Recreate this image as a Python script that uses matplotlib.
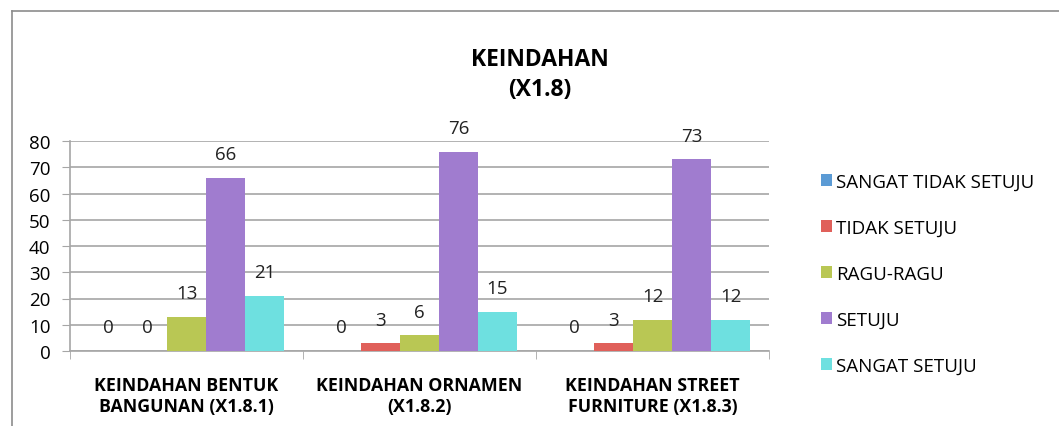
import matplotlib
matplotlib.use("Agg")
import matplotlib.pyplot as plt
import numpy as np
from matplotlib.lines import Line2D

categories = ["KEINDAHAN BENTUK\nBANGUNAN (X1.8.1)",
              "KEINDAHAN ORNAMEN\n(X1.8.2)",
              "KEINDAHAN STREET\nFURNITURE (X1.8.3)"]
series_names = ["SANGAT TIDAK SETUJU", "TIDAK SETUJU", "RAGU-RAGU", "SETUJU", "SANGAT SETUJU"]
sangat_tidak_setuju = [0, 0, 0]
tidak_setuju = [0, 3, 3]
ragu_ragu = [13, 6, 12]
setuju = [66, 76, 73]
sangat_setuju = [21, 15, 12]
colors = ["#5B9BD5", "#E0605A", "#B9C754", "#A07CCF", "#6EE0E0"]
yticks = [0, 10, 20, 30, 40, 50, 60, 70, 80]

plt.rcParams['font.family'] = ['Open Sans', 'DejaVu Sans']

W, H = 1059, 427
fig = plt.figure(figsize=(W / 100, H / 100), dpi=100)
ax = fig.add_axes([70 / W, 75 / H, 699 / W, 210 / H])

data = [sangat_tidak_setuju, tidak_setuju, ragu_ragu, setuju, sangat_setuju]
n = len(data)
bw = 0.1674
x = np.arange(len(categories))
offsets = (np.arange(n) - (n - 1) / 2) * bw
for i, (vals, name) in enumerate(zip(data, series_names)):
    bars = ax.bar(x + offsets[i], vals, bw, color=colors[i], label=name, zorder=3)
    for j, b in enumerate(bars):
        v = vals[j]
        ax.annotate(f"{v}", (b.get_x() + b.get_width() / 2, v),
                    xytext=(0, 17), textcoords="offset points",
                    ha="center", va="center", fontsize=13.5, color="#222222", zorder=4)

ax.set_xlim(-0.5, len(categories) - 0.5)
ax.set_ylim(0, 80)
ax.set_yticks(yticks)
ax.set_yticklabels([str(t) for t in yticks], fontsize=13.5)
ax.yaxis.grid(True, color="#A6A6A6", linewidth=1.2, zorder=0)
ax.set_axisbelow(True)
ax.tick_params(axis="y", length=6, color="#A6A6A6", pad=8)
ax.set_xticks(x)
ax.set_xticklabels(categories, fontsize=12.8, fontweight="bold", linespacing=1.25)
ax.tick_params(axis="x", length=0, pad=18)
ax.set_xticks([-0.5, 0.5, 1.5, 2.5], minor=True)
ax.tick_params(axis="x", which="minor", length=6, color="#A6A6A6", direction="out")
for s in ["top", "right"]:
    ax.spines[s].set_visible(False)
ax.spines["left"].set_color("#A6A6A6")
ax.spines["bottom"].set_color("#A6A6A6")
ax.spines["left"].set_linewidth(1.2)
ax.spines["bottom"].set_linewidth(1.2)

fig.text(540 / W, 1 - 60 / H, "KEINDAHAN", ha="center", va="center",
         fontsize=16.5, fontweight="bold")
fig.text(540 / W, 1 - 90 / H, "(X1.8)", ha="center", va="center",
         fontsize=16.5, fontweight="bold")

leg = fig.legend(loc="upper left", bbox_to_anchor=(813 / W, 1 - 166 / H),
                 frameon=False, fontsize=13.5, handlelength=0.6, handleheight=0.6,
                 handletextpad=0.25, labelspacing=1.5, borderaxespad=0)

# chart border
fig.add_artist(Line2D([12 / W, 12 / W], [0, 1 - 12 / H], color="#8C8C8C", lw=1.2,
                      transform=fig.transFigure))
fig.add_artist(Line2D([12 / W, 1], [1 - 12 / H, 1 - 12 / H], color="#8C8C8C", lw=1.2,
                      transform=fig.transFigure))

fig.savefig("out.png", dpi=100)
